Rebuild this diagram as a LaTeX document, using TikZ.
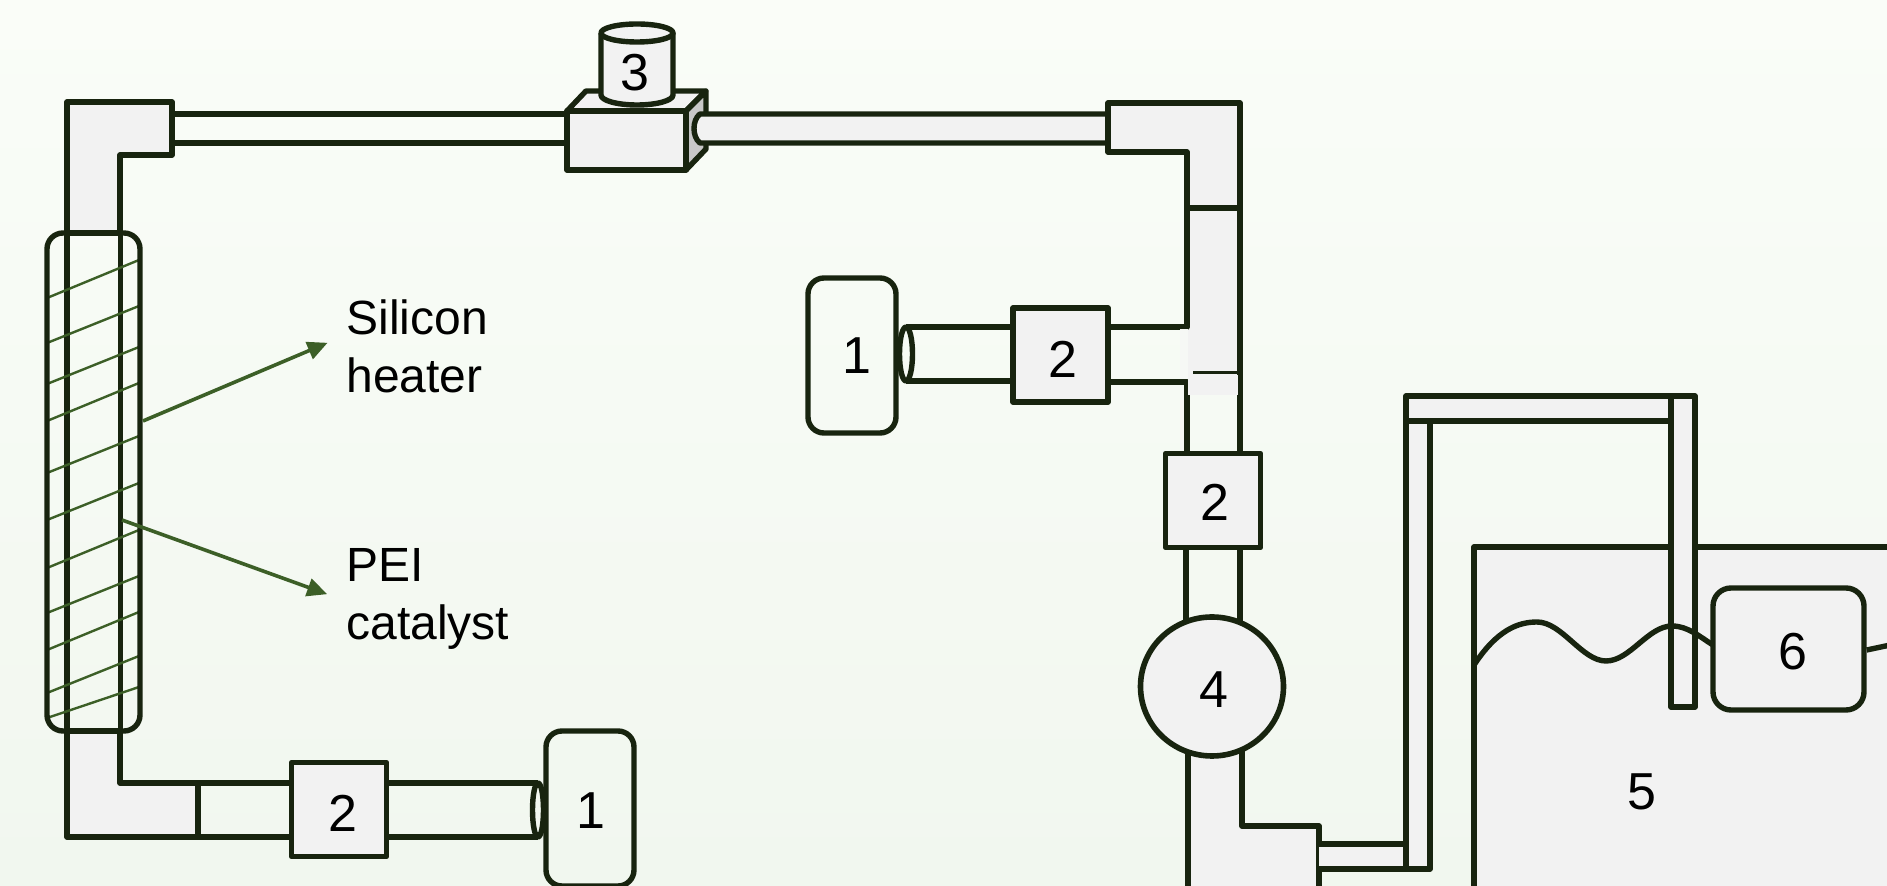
\documentclass[tikz,border=0pt]{standalone}
\usepackage{fontspec}
\setmainfont{Liberation Sans}
\usetikzlibrary{arrows.meta,shapes.geometric}
\begin{document}
\begin{tikzpicture}[x=0.5pt,y=-0.5pt,
    line/.style={draw=dark, line width=2.7pt, line join=round},
    part/.style={line, fill=steel},
    numtext/.style={font=\fontsize{26}{30}\selectfont, text=black, inner sep=0pt},
    valvebox/.style={part, rectangle, inner sep=0pt, minimum width=47.5pt, minimum height=47pt},
    tankbox/.style={line, rectangle, rounded corners=8pt, inner sep=0pt, minimum width=44pt, minimum height=77.5pt},
    description/.style={font=\fontsize{24}{29}\selectfont, align=left, anchor=west, inner sep=0pt},
    pointer/.style={draw=leaf, line width=1.8pt, -{Triangle[length=10pt,width=9pt]}},
    winding/.style={draw=leaf, line width=1.2pt},
  ]

\definecolor{dark}{RGB}{24,36,15}
\definecolor{steel}{RGB}{242,242,242}
\definecolor{side}{RGB}{200,200,200}
\definecolor{leaf}{RGB}{60,95,39}
\definecolor{skytop}{RGB}{250,253,248}
\definecolor{skybottom}{RGB}{241,247,239}

\useasboundingbox (0,0) rectangle (1887,886);
\clip (0,0) rectangle (1887,886);
\shade[top color=skytop, bottom color=skybottom] (0,0) rectangle (1887,886);

% left column with heater
\draw[part] (67,102) -- (172,102) -- (172,155) -- (120,155) -- (120,233) -- (67,233) -- cycle;
\draw[part] (67,731) -- (67,837) -- (198,837) -- (198,783) -- (120,783) -- (120,731) -- cycle;
\draw[line] (67,233) -- (67,731);
\draw[line] (120.5,233) -- (120.5,731);
\foreach \ya/\yb in {298/260,343/306,384/347,421/383,473/436,520/483,568/530,613/576,650/612,693/656,718/687}
    \draw[winding] (47,\ya) -- (139,\yb);
\draw[line, rounded corners=8pt] (47,233) rectangle (140,731);

% top run
\draw[line] (172,114) -- (567,114);
\draw[line] (172,143) -- (567,143);
\draw[part] (567,111) -- (586,91) -- (706,91) -- (686,111) -- cycle;
\draw[line, fill=side] (686,111) -- (706,91) -- (706,149) -- (686,170) -- cycle;
\draw[part] (567,111) rectangle (686,170);
\fill[steel] (700,114) .. controls (692,120) and (692,137) .. (700,143) -- (1108,143) -- (1108,114) -- cycle;
\draw[line] (1108,114) -- (700,114) .. controls (692,120) and (692,137) .. (700,143) -- (1108,143);

% cup on the box
\fill[steel] (601,33) rectangle (673,95);
\draw[part] (601,33) -- (601,95) arc[start angle=180, end angle=360, x radius=36, y radius=-10] -- (673,33);
\draw[part] (637,33) ellipse[x radius=36, y radius=9];
\node[numtext] (cupnum) at (635,73) {3};

% right column
\draw[part] (1108,103) -- (1240,103) -- (1240,208) -- (1187,208) -- (1187,152) -- (1108,152) -- cycle;
\fill[steel] (1187,208) rectangle (1240,375);
\draw[line] (1187,208) -- (1240,208);
\draw[line] (1240,208) -- (1240,453);
\draw[line] (1187,208) -- (1187,327) -- (1108,327);
\draw[line] (1108,382) -- (1187,382) -- (1187,453);
\fill[steel!50!skytop] (1180,329.5) rectangle (1188,379.5);
\fill[steel] (1188,375) rectangle (1238,395);
\draw[dark, line width=1.5pt] (1193,373) -- (1238,373);
\draw[line] (1186,548) -- (1186,625);
\draw[line] (1240,548) -- (1240,625);

% branch at the middle
\draw[line] (906,327) -- (1013,327);
\draw[line] (906,381) -- (1013,381);
\draw[line] (906,354) ellipse[x radius=6.5, y radius=27];
\node[tankbox, label={[numtext,xshift=2.5pt]center:1}] (pumptop) at (852,355.5) {};
\node[valvebox, label={[numtext,xshift=1.25pt,yshift=-2pt]center:2}] (valvetop) at (1060.5,355) {};
\node[valvebox, label={[numtext,xshift=1pt,yshift=-0.75pt]center:2}] (valveright) at (1213,500.5) {};

% bottom branch
\draw[line] (198,783) -- (291,783);
\draw[line] (198,837) -- (291,837);
\draw[line] (387,783) -- (538,783);
\draw[line] (387,837) -- (538,837);
\draw[line] (538,810) ellipse[x radius=5.5, y radius=27];
\node[valvebox, label={[numtext,xshift=2pt,yshift=-1.75pt]center:2}] (valveleft) at (339,809.5) {};
\node[tankbox, label={[numtext,xshift=0.5pt,yshift=-1.25pt]center:1}] (pumpleft) at (590,808.5) {};

% lower elbow and saturator
\draw[part] (1188,745) -- (1188,900) -- (1319,900) -- (1319,826) -- (1242,826) -- (1242,745);
\node[part, ellipse, inner sep=0pt, minimum width=71.5pt, minimum height=69.5pt, line width=2.8pt,
      label={[numtext,xshift=1pt,yshift=-1.75pt]center:4}] (blower) at (1212,686.5) {};
\fill[steel] (1319,844) rectangle (1406,869);
\draw[line] (1319,844) -- (1406,844);
\draw[line] (1319,869) -- (1406,869);
\draw[part] (1474,900) -- (1474,547) -- (1900,547) -- (1900,900) -- cycle;
\node[numtext] (tanknum) at (1642,792) {5};
\draw[part] (1406,869) -- (1406,396) -- (1695,396) -- (1695,707) -- (1671,707) -- (1671,421) -- (1430,421) -- (1430,869) -- cycle;
\draw[line] (1406,421) -- (1430,421);
\draw[line] (1671,396) -- (1671,421);
\draw[line] (1474,665) .. controls (1497,630) and (1518,622) .. (1537,622) .. controls (1562,622) and (1582,661) .. (1606,661) .. controls (1630,661) and (1648,626) .. (1672,626) .. controls (1688,626) and (1700,637) .. (1713,645);
\node[part, rectangle, rounded corners=9pt, inner sep=0pt, minimum width=75.5pt, minimum height=61pt,
      label={[numtext,xshift=2.25pt,yshift=-1.5pt]center:6}] (scrubber) at (1788.5,649) {};
\draw[line] (scrubber.east |- 0,650) -- (1895,644);

% labels
\node[description] (silicon) at (346,346) {Silicon\\heater};
\node[description] (catalyst) at (346,599) {PEI\\catalyst};
\coordinate (heaterpoint) at (143,421);
\coordinate (catalystpoint) at (122,520);
\draw[pointer, shorten >=10pt] (heaterpoint) -- ([yshift=5.5pt]silicon.west);
\draw[pointer, shorten >=10pt] (catalystpoint) -- ([yshift=-1pt]catalyst.west);
\end{tikzpicture}
\end{document}
